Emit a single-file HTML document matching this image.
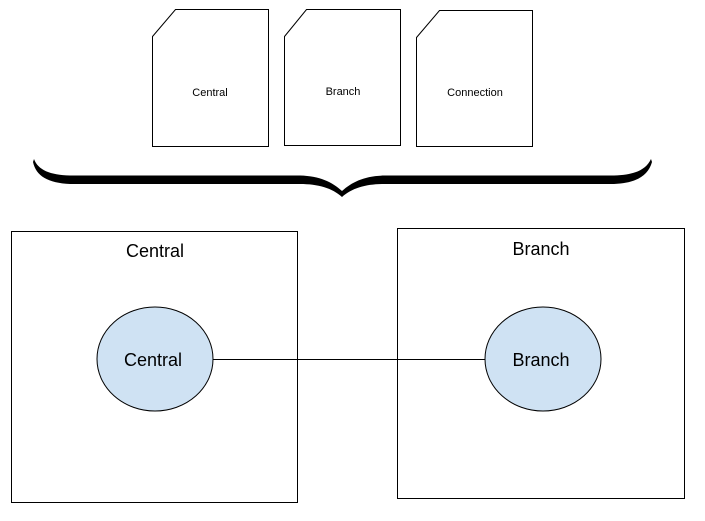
<!DOCTYPE html>
<html><head><meta charset="utf-8"><style>
html,body{margin:0;padding:0;background:#fff;}
svg{display:block}
text{font-family:"Liberation Sans",Arial,sans-serif;fill:#000}
</style></head><body>
<svg width="705" height="521" viewBox="0 0 705 521" xmlns="http://www.w3.org/2000/svg">
<g fill="#fff" stroke="#000" stroke-width="1">
<path d="M152.5 36.5 L175.5 9.5 L268.5 9.5 L268.5 146.5 L152.5 146.5 Z"/>
<path d="M284.5 36.5 L306.5 9.5 L400.5 9.5 L400.5 145.5 L284.5 145.5 Z"/>
<path d="M416.5 37.5 L439.5 10.5 L532.5 10.5 L532.5 146.5 L416.5 146.5 Z"/>
</g>
<text x="210" y="96" font-size="11" text-anchor="middle">Central</text>
<text x="343" y="95" font-size="11" text-anchor="middle">Branch</text>
<text x="475" y="96" font-size="11" text-anchor="middle">Connection</text>
<path d="M34 159 C38 170 50 175 70 175.5 L300 175.5 C320 176 332 182 342 191 C352 182 364 176 384 175.5 L614 175.5 C634 175 646 170 651 159 L652 162 C648 176 636 183 614 184 L384 184 C366 184 352 188 342 197 C332 188 318 184 300 184 L70 184 C48 183 36 176 33 162 Z" fill="#000"/>
<rect x="11.5" y="231.5" width="286" height="271" fill="none" stroke="#000"/>
<rect x="397.5" y="228.5" width="287" height="270" fill="none" stroke="#000"/>
<line x1="213" y1="359.5" x2="485" y2="359.5" stroke="#000"/>
<ellipse cx="155" cy="359" rx="58" ry="52" fill="#cfe2f3" stroke="#000"/>
<ellipse cx="543" cy="359" rx="58" ry="52" fill="#cfe2f3" stroke="#000"/>
<text x="155" y="257" font-size="18" text-anchor="middle">Central</text>
<text x="541" y="255" font-size="18" text-anchor="middle">Branch</text>
<text x="153" y="366" font-size="18" text-anchor="middle">Central</text>
<text x="541" y="366" font-size="18" text-anchor="middle">Branch</text>
</svg>
</body></html>
